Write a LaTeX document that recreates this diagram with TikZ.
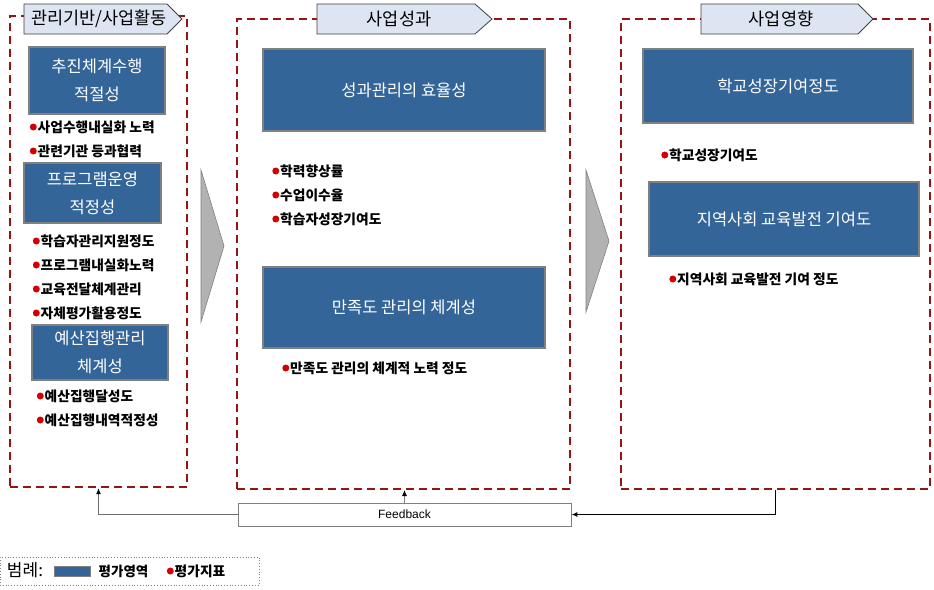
\documentclass[tikz,border=0pt]{standalone}
\usepackage{fontspec}
\setmainfont{Noto Sans CJK KR}
\newfontfamily\latinsans{Liberation Sans}
\usetikzlibrary{arrows.meta}

\definecolor{dred}{RGB}{150,20,20}
\definecolor{bfill}{RGB}{52,101,153}
\definecolor{hfill}{RGB}{220,229,241}
\definecolor{bred}{RGB}{210,0,0}
\definecolor{cgray}{RGB}{178,178,178}

\begin{document}
\begin{tikzpicture}[x=1pt,y=-1pt,
 dbox/.style={draw=dred, line width=2pt, dash pattern=on 8pt off 5pt, rectangle, inner sep=0pt},
 bluebox/.style={draw=gray, line width=1.2pt, fill=bfill, text=white, align=center, font=\fontsize{16.5}{28}\selectfont, inner sep=0pt},
 tab/.style={draw=black!75, fill=hfill, line width=0.8pt},
 tabtext/.style={font=\fontsize{17.5}{19}\selectfont, inner sep=0pt},
 bul/.style={anchor=west, inner sep=0.5pt, font=\bfseries\fontsize{13.75}{15}\selectfont,
   label={[circle, fill=bred, minimum size=7pt, inner sep=0pt]west:{}}},
 chev/.style={fill=cgray, draw=gray, line width=0.6pt},
 fbline/.style={line width=1.2pt, -{Latex[length=6pt,width=5pt,color=black]}}
]
\useasboundingbox (0,0) rectangle (934,589);

% dashed containers
\node[dbox, minimum width=177pt, minimum height=471pt] (d1) at (98.5,251.5) {};
\node[dbox, minimum width=333pt, minimum height=470pt] (d2) at (403.5,254) {};
\node[dbox, minimum width=309pt, minimum height=470pt] (d3) at (775.5,254) {};

% header tabs
\draw[tab] (24,4) -- (167,4) -- (182,19) -- (167,34) -- (24,34) -- cycle;
\node[tabtext] (t1) at (99,19) {관리기반/사업활동};
\draw[tab] (317,4) -- (475,4) -- (492,19) -- (475,34) -- (317,34) -- cycle;
\node[tabtext] (t2) at (399,19) {사업성과};
\draw[tab] (701,4) -- (858,4) -- (873,19) -- (858,34) -- (701,34) -- cycle;
\node[tabtext] (t3) at (781,19) {사업영향};

% left column
\node[bluebox, minimum width=136pt, minimum height=67pt] (l1) at (97,80.5) {추진체계수행\\적절성};
\node[bul] (b1) at (37,127) {사업수행내실화 노력};
\node[bul] (b2) at (37,151) {관련기관 등과협력};
\node[bluebox, minimum width=137pt, minimum height=60pt] (l2) at (92.5,193) {프로그램운영\\적정성};
\node[bul] (b3) at (40,241) {학습자관리지원정도};
\node[bul] (b4) at (40,265) {프로그램내실화노력};
\node[bul] (b5) at (40,289) {교육전달체계관리};
\node[bul] (b6) at (40,313) {자체평가활용정도};
\node[bluebox, minimum width=136pt, minimum height=55pt] (l3) at (100,352.5) {예산집행관리\\체계성};
\node[bul] (b7) at (44,396) {예산집행달성도};
\node[bul] (b8) at (44,420) {예산집행내역적정성};

% middle column
\node[bluebox, minimum width=282pt, minimum height=82pt] (m1) at (404,90) {성과관리의 효율성};
\node[bul] (c1) at (279.5,171) {학력향상률};
\node[bul] (c2) at (279.5,195) {수업이수율};
\node[bul] (c3) at (279.5,219) {학습자성장기여도};
\node[bluebox, minimum width=282pt, minimum height=81pt] (m2) at (404,307.5) {만족도 관리의 체계성};
\node[bul] (c4) at (289.5,368) {만족도 관리의 체계적 노력 정도};

% right column
\node[bluebox, minimum width=270pt, minimum height=74pt] (r1) at (778,86) {학교성장기여정도};
\node[bul] (e1) at (668.5,155) {학교성장기여도};
\node[bluebox, minimum width=270pt, minimum height=74pt] (r2) at (784,219) {지역사회 교육발전 기여도};
\node[bul] (e2) at (676.5,279) {지역사회 교육발전 기여 정도};

% chevrons
\draw[chev] (201,170) -- (224,246) -- (201,322) -- cycle;
\draw[chev] (586,170) -- (609,241) -- (586,312) -- cycle;

% feedback
\node[draw=gray, line width=0.9pt, minimum width=333pt, minimum height=23pt, inner sep=0pt,
      font=\latinsans\fontsize{12}{14}\selectfont] (fb) at (404.5,514.5) {Feedback};
\draw[fbline, line width=1.5pt, draw=gray!85!black] (fb.west) -| (d1.south);
\draw[fbline, line width=0.8pt, draw=gray] (fb.north) -- (fb.north |- d2.south);
\draw[fbline, line width=1pt, draw=black] (d3.south) |- (fb.east);

% legend
\node[draw=gray, dotted, line width=0.8pt, minimum width=259pt, minimum height=28pt, inner sep=0pt] (leg) at (129.5,571) {};
\node[font=\fontsize{17}{19}\selectfont, inner sep=0pt] (lt) at (25,570) {범례:};
\node[draw=gray, line width=0.8pt, fill=bfill, minimum width=36pt, minimum height=10pt, inner sep=0pt] (sw) at (72,571) {};
\node[anchor=west, inner sep=0.5pt, font=\bfseries\fontsize{13.5}{15}\selectfont] (la) at (98,571) {평가영역};
\node[bul] (lb) at (174,571) {평가지표};
\end{tikzpicture}
\end{document}
